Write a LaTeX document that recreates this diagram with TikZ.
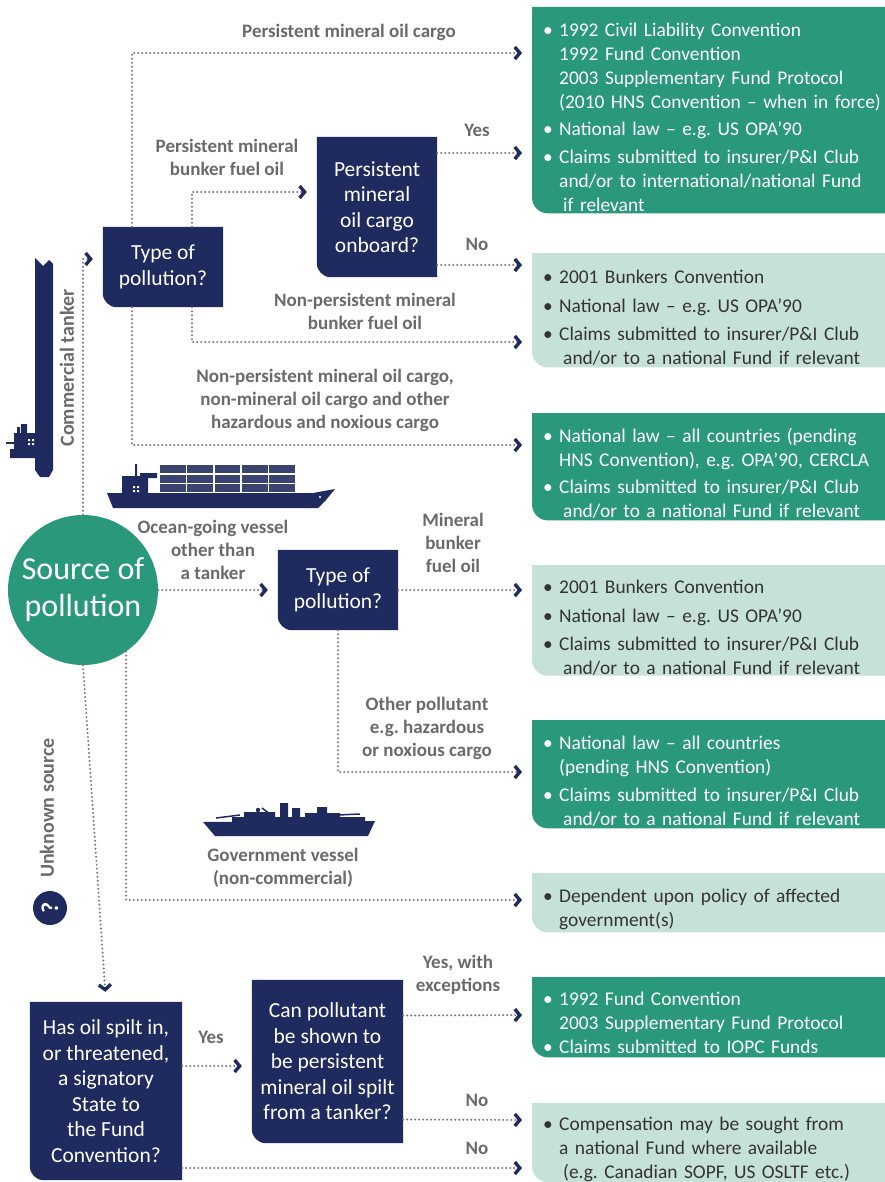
\documentclass[tikz,border=0pt]{standalone}
\usepackage{fontspec}
\setmainfont{Carlito}
\usetikzlibrary{positioning,arrows.meta,backgrounds}

\definecolor{navy}{HTML}{1F2A5E}
\definecolor{seagreen}{HTML}{2A987B}
\definecolor{palegreen}{HTML}{C6E1D8}
\definecolor{labelgrey}{HTML}{6A6A6A}
\definecolor{dotgrey}{HTML}{7A6F8C}
\definecolor{inkgrey}{HTML}{333333}

\newcommand{\itm}[2][3.5pt]{\par\setlength{\parskip}{#1}\hangindent=16pt\hangafter=1\noindent\makebox[16pt][l]{•}#2\par}
\newcommand{\cornerbox}[3]{%
  \begin{pgfonlayer}{background}
  \fill[#2] (#1.north west) -- (#1.north east) -- (#1.south east) -- ([xshift=#3]#1.south west)
    .. controls ([xshift=0.45*#3]#1.south west) and ([yshift=0.45*#3]#1.south west) .. ([yshift=#3]#1.south west) -- cycle;
  \end{pgfonlayer}}

\tikzset{
  question/.style={text=white, align=center, inner sep=0pt, font=\fontsize{21.5}{25.5}\selectfont},
  outcome/.style={anchor=north west, inner xsep=11pt, inner ysep=0pt, text width=360pt, align=left, font=\fontsize{19.4}{24}\selectfont},
  lbl/.style={text=labelgrey, align=center, inner sep=0pt, font=\bfseries\fontsize{19}{23}\selectfont},
  flow/.style={dotgrey, line width=2.2pt, line cap=round, dash pattern=on 0pt off 4pt, shorten >=10pt,
    -{Straight Barb[length=5pt,width=12pt,line width=3.4pt,color=navy]}},
}

\begin{document}
\frenchspacing
\begin{tikzpicture}[x=1pt,y=-1pt]
\useasboundingbox (0,0) rectangle (885,1182);

\node[circle, fill=seagreen, minimum size=150pt, inner sep=0pt, text=white, align=center, font=\fontsize{32}{37}\selectfont] (src) at (83,590) {Source of\\pollution};

\node[question, minimum width=120pt, minimum height=80pt] (tanktype) at (163,267) {Type of\\pollution?};
\node[question, minimum width=120pt, minimum height=140pt] (onboard) at (377,207) {Persistent\\mineral\\oil cargo\\onboard?};
\node[question, minimum width=120pt, minimum height=80pt] (shiptype) at (338,590) {Type of\\pollution?};
\node[question, minimum width=152pt, minimum height=178pt] (signatory) at (106,1091) {Has oil spilt in,\\or threatened,\\a signatory\\State to\\the Fund\\Convention?};
\node[question, minimum width=151pt, minimum height=163pt] (persist) at (327.5,1061.5) {Can pollutant\\be shown to\\be persistent\\mineral oil spilt\\from a tanker?};
\foreach \n in {tanktype,onboard,shiptype,signatory,persist} {\cornerbox{\n}{navy}{14pt}}

\node[outcome, text=white, minimum height=206pt] (cargo) at (532,7) {\itm{1992 Civil Liability Convention\newline 1992 Fund Convention\newline 2003 Supplementary Fund Protocol\newline (2010 HNS Convention – when in force)}\itm{National law – e.g. US OPA’90}\itm{Claims submitted to insurer/P\&I Club\newline and/or to international/national Fund\newline\hspace*{4pt}if relevant}};
\node[outcome, text=inkgrey, minimum height=114pt] (bunker) at (532,253) {\itm[4.5pt]{2001 Bunkers Convention}\itm[4.5pt]{National law – e.g. US OPA’90}\itm[4.5pt]{Claims submitted to insurer/P\&I Club\newline\hspace*{4pt}and/or to a national Fund if relevant}};
\node[outcome, text=white, minimum height=107pt] (hns) at (532,413) {\itm{National law – all countries (pending\newline HNS Convention), e.g. OPA’90, CERCLA}\itm{Claims submitted to insurer/P\&I Club\newline\hspace*{4pt}and/or to a national Fund if relevant}};
\node[outcome, text=inkgrey, minimum height=110pt] (bunkerb) at (532,565) {\itm[4.5pt]{2001 Bunkers Convention}\itm[4.5pt]{National law – e.g. US OPA’90}\itm[4.5pt]{Claims submitted to insurer/P\&I Club\newline\hspace*{4pt}and/or to a national Fund if relevant}};
\node[outcome, text=white, minimum height=108pt] (hnsb) at (532,720) {\itm{National law – all countries\newline (pending HNS Convention)}\itm{Claims submitted to insurer/P\&I Club\newline\hspace*{4pt}and/or to a national Fund if relevant}};
\node[outcome, text=inkgrey, minimum height=59pt] (govt) at (532,873) {\itm{Dependent upon policy of affected\newline government(s)}};
\node[outcome, text=white, minimum height=80pt] (iopc) at (532,977) {\itm[0pt]{1992 Fund Convention\newline 2003 Supplementary Fund Protocol}\itm[0pt]{Claims submitted to IOPC Funds}};
\node[outcome, text=inkgrey, minimum height=77pt] (local) at (532,1103) {\itm{Compensation may be sought from\newline a national Fund where available\newline\hspace*{4pt}(e.g. Canadian SOPF, US OSLTF etc.)}};
\foreach \n/\c in {cargo/seagreen,bunker/palegreen,hns/seagreen,bunkerb/palegreen,hnsb/seagreen,govt/palegreen,iopc/seagreen,local/palegreen} {\cornerbox{\n}{\c}{16pt}}

\draw[flow] (src.north) |- ([yshift=8pt]tanktype.west);
\draw[flow] ([xshift=-31pt]tanktype.north) |- (cargo.west |- 0,53);
\draw[flow] ([xshift=29pt]tanktype.north) |- ([yshift=15pt]onboard.west);
\draw[flow] ([yshift=54pt]onboard.east) -- (cargo.west |- 0,153);
\draw[flow] ([yshift=-58pt]onboard.east) -- (bunker.west |- 0,265);
\draw[flow] ([xshift=29pt]tanktype.south) |- (bunker.west |- 0,342);
\draw[flow] ([xshift=-31pt]tanktype.south) |- (hns.west |- 0,445);
\draw[flow] (src.east) -- (shiptype.west);
\draw[flow] (shiptype.east) -- (bunkerb.west |- shiptype.east);
\draw[flow] (shiptype.south) |- (hnsb.west |- 0,772);
\draw[flow] (src.-55) |- (govt.west |- 0,900);
\draw[flow] (src.south) -- (signatory.north);
\draw[flow] ([yshift=25pt]signatory.east) -- (persist.west |- 0,1066);
\draw[flow] ([yshift=46pt]persist.east) -- (iopc.west |- 0,1015);
\draw[flow] ([yshift=-58pt]persist.east) -- (local.west |- 0,1120);
\draw[flow] ([yshift=-77pt]signatory.east) -- (local.west |- 0,1168);

\node[lbl] (pmcargo) at (349,32) {Persistent mineral oil cargo};
\node[lbl] (pmbunker) at (227,157) {Persistent mineral\\bunker fuel oil};
\node[lbl] (yesa) at (477,130) {Yes};
\node[lbl] (noa) at (477,244) {No};
\node[lbl] (npbunker) at (365,311) {Non-persistent mineral\\bunker fuel oil};
\node[lbl] (npcargo) at (325,400) {Non-persistent mineral oil cargo,\\non-mineral oil cargo and other\\hazardous and noxious cargo};
\node[lbl] (ocean) at (213,550) {Ocean-going vessel\\other than\\a tanker};
\node[lbl] (mbunker) at (453,543) {Mineral\\bunker\\fuel oil};
\node[lbl] (other) at (427,728) {Other pollutant\\e.g. hazardous\\or noxious cargo};
\node[lbl] (govlbl) at (283,868) {Government vessel\\(non-commercial)};
\node[lbl] (yesb) at (211,1037) {Yes};
\node[lbl] (yesc) at (458,975) {Yes, with\\exceptions};
\node[lbl] (nob) at (477,1100) {No};
\node[lbl] (noc) at (477,1148) {No};
\node[lbl, rotate=90, font=\bfseries\fontsize{20}{24}\selectfont] (tankerlbl) at (67,368) {Commercial tanker};
\node[lbl, rotate=90, font=\bfseries\fontsize{20}{24}\selectfont] (unknown) at (47,808) {Unknown source};
\node[circle, fill=navy, minimum size=34pt, inner sep=0pt, text=white, rotate=90, font=\bfseries\fontsize{24}{24}\selectfont] (qmark) at (50,908) {?};

% tanker
\fill[navy] (35,258) -- (43,266) -- (49,260) -- (53,264) -- (53,470) -- (49,477) -- (40,477) -- (35,470) -- cycle;
\fill[navy] (17,427) rectangle (20,440) (21,424) rectangle (27,434) (14,433) rectangle (36,449) (10,449) rectangle (36,458);
\draw[navy, line width=1.6pt] (6,443) -- (15,443);
\fill[white] (28,439) rectangle (30,441) (32,439) rectangle (34,441) (28,443) rectangle (30,445) (32,443) rectangle (34,445);

% container ship
\fill[navy] (107,493) -- (313,493) -- (335,489) -- (326,500) -- (318,508) -- (113,508) -- cycle;
\fill[navy] (122,476) rectangle (148,494) (140,473) rectangle (157,478) (135,464) rectangle (137,476);
\foreach \c in {0,...,4} {
  \foreach \r in {0,1,2} {
    \fill[navy!88] ({159.8+27.4*\c},{464.8+9.7*\r}) rectangle ++(25.8,8.1);
  }
}
\fill[white] (133,486) rectangle (135,488) (137,486) rectangle (139,488) (133,490) rectangle (135,492) (137,490) rectangle (139,492);
\fill[white] (320,497) circle (1.2);

% government vessel
\fill[navy] (203,822) -- (375,821) -- (368,836) -- (215,836) -- cycle;
\fill[navy] (232,817) rectangle (365,822) (244,812) rectangle (275,817) (280,803) rectangle (288,822) (292,808) rectangle (300,822) (317,807) rectangle (327,822) (305,813) rectangle (340,818);
\draw[navy, line width=1.5pt] (216,818) -- (240,815) (338,815) -- (360,814) (262,808) -- (270,814);
\fill[navy] (258,810) circle (2.2);
\end{tikzpicture}
\end{document}
